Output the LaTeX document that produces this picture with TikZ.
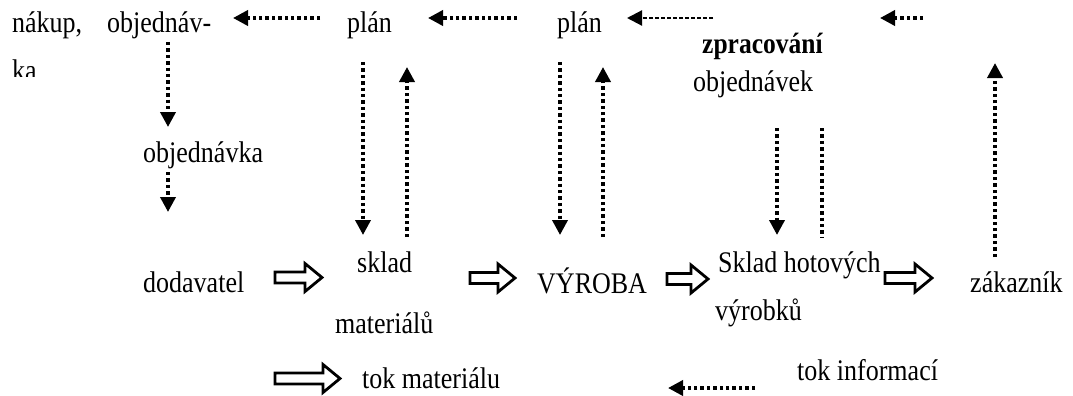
\documentclass[tikz,border=0pt]{standalone}
\usepackage{fontspec}
\setmainfont{Liberation Serif}
\usetikzlibrary{arrows.meta}
\newcommand{\tallt}[1]{\scalebox{1}[1.15]{#1}}
\tikzset{
  lbl/.style={anchor=base west, inner sep=0pt, font=\fontsize{26}{30}\selectfont},
  info/.style={line width=3.6pt, dash pattern=on 3.4pt off 3pt, -{Triangle[length=15pt,width=15pt]}},
  infothin/.style={line width=2.2pt, dash pattern=on 4pt off 2pt, -{Triangle[length=15pt,width=15pt]}},
  infoline/.style={line width=3.6pt, dash pattern=on 3.4pt off 3pt},
  barrowline/.style={line width=2.8pt, miter limit=10, fill=white},
  pics/barrow/.style={code={
    \draw[barrowline] (0,5.5) -- (#1-17,5.5) -- (#1-17,14) -- (#1,0) -- (#1-17,-14) -- (#1-17,-5.5) -- (0,-5.5) -- cycle;}}
}
\begin{document}
\begin{tikzpicture}[x=1pt,y=-1pt]
\useasboundingbox (0,0) rectangle (1073,396);
% text nodes
\node[lbl] (nakup) at (12,33) {\tallt{nákup,}};
\node[lbl] (objv) at (107,33) {\tallt{objednáv-}};
\begin{scope}
  \clip (0,0) rectangle (120,76);
  \node[lbl] (ka) at (12,81) {\tallt{ka}};
\end{scope}
\node[lbl] (plan1) at (347,33) {\tallt{plán}};
\node[lbl] (plan2) at (557,33) {\tallt{plán}};
\node[lbl, font=\fontsize{25.5}{30}\selectfont\bfseries] (zprac) at (702,53) {\tallt{zpracování}};
\node[lbl] (objvek) at (693,92) {\tallt{objednávek}};
\node[lbl] (objka) at (143,162) {\tallt{objednávka}};
\node[lbl] (dod) at (143,292) {\tallt{dodavatel}};
\node[lbl] (sklad) at (357,272) {\tallt{sklad}};
\node[lbl] (mat) at (335,333) {\tallt{materiálů}};
\node[lbl] (vyr) at (537,293) {\tallt{VÝROBA}};
\node[lbl] (skh) at (718,272) {\tallt{Sklad hotových}};
\node[lbl] (vyrk) at (715,320) {\tallt{výrobků}};
\node[lbl] (zak) at (970,292) {\tallt{zákazník}};
\node[lbl] (tokm) at (362,388) {\tallt{tok materiálu}};
\node[lbl] (toki) at (797,380) {\tallt{tok informací}};
% coordinates for connector ends
\coordinate (h1a) at (320,18); \coordinate (h1b) at (233,18);
\coordinate (h2a) at (517,18); \coordinate (h2b) at (428,18);
\coordinate (h3a) at (713,18); \coordinate (h3b) at (627,18);
\coordinate (h4a) at (923,18); \coordinate (h4b) at (880,18);
\coordinate (lga) at (755,388); \coordinate (lgb) at (668,388);
\coordinate (v1a) at (168,42); \coordinate (v1b) at (168,127);
\coordinate (v2a) at (168,172); \coordinate (v2b) at (168,212);
\coordinate (v3a) at (363,62); \coordinate (v3b) at (363,235);
\coordinate (v4a) at (407,237); \coordinate (v4b) at (407,67);
\coordinate (v5a) at (560,62); \coordinate (v5b) at (560,235);
\coordinate (v6a) at (603,237); \coordinate (v6b) at (603,67);
\coordinate (v7a) at (777,128); \coordinate (v7b) at (777,235);
\coordinate (v8a) at (822,128); \coordinate (v8b) at (822,237);
\coordinate (v9a) at (995,257); \coordinate (v9b) at (995,63);
% information flow
\draw[info] (h1a) -- (h1b);
\draw[info] (h2a) -- (h2b);
\draw[infothin] (h3a) -- (h3b);
\draw[info] (h4a) -- (h4b);
\draw[info] (lga) -- (lgb);
\draw[info] (v1a) -- (v1b);
\draw[info] (v2a) -- (v2b);
\draw[info] (v3a) -- (v3b);
\draw[info] (v4a) -- (v4b);
\draw[info] (v5a) -- (v5b);
\draw[info] (v6a) -- (v6b);
\draw[info] (v7a) -- (v7b);
\draw[infoline] (v8a) -- (v8b);
\draw[info] (v9a) -- (v9b);
% material flow
\pic at (275,277.5) {barrow=47};
\pic at (470,278) {barrow=45};
\pic at (667,279) {barrow=41};
\pic at (885,278) {barrow=47};
\pic at (275,378.5) {barrow=65};
\end{tikzpicture}
\end{document}
